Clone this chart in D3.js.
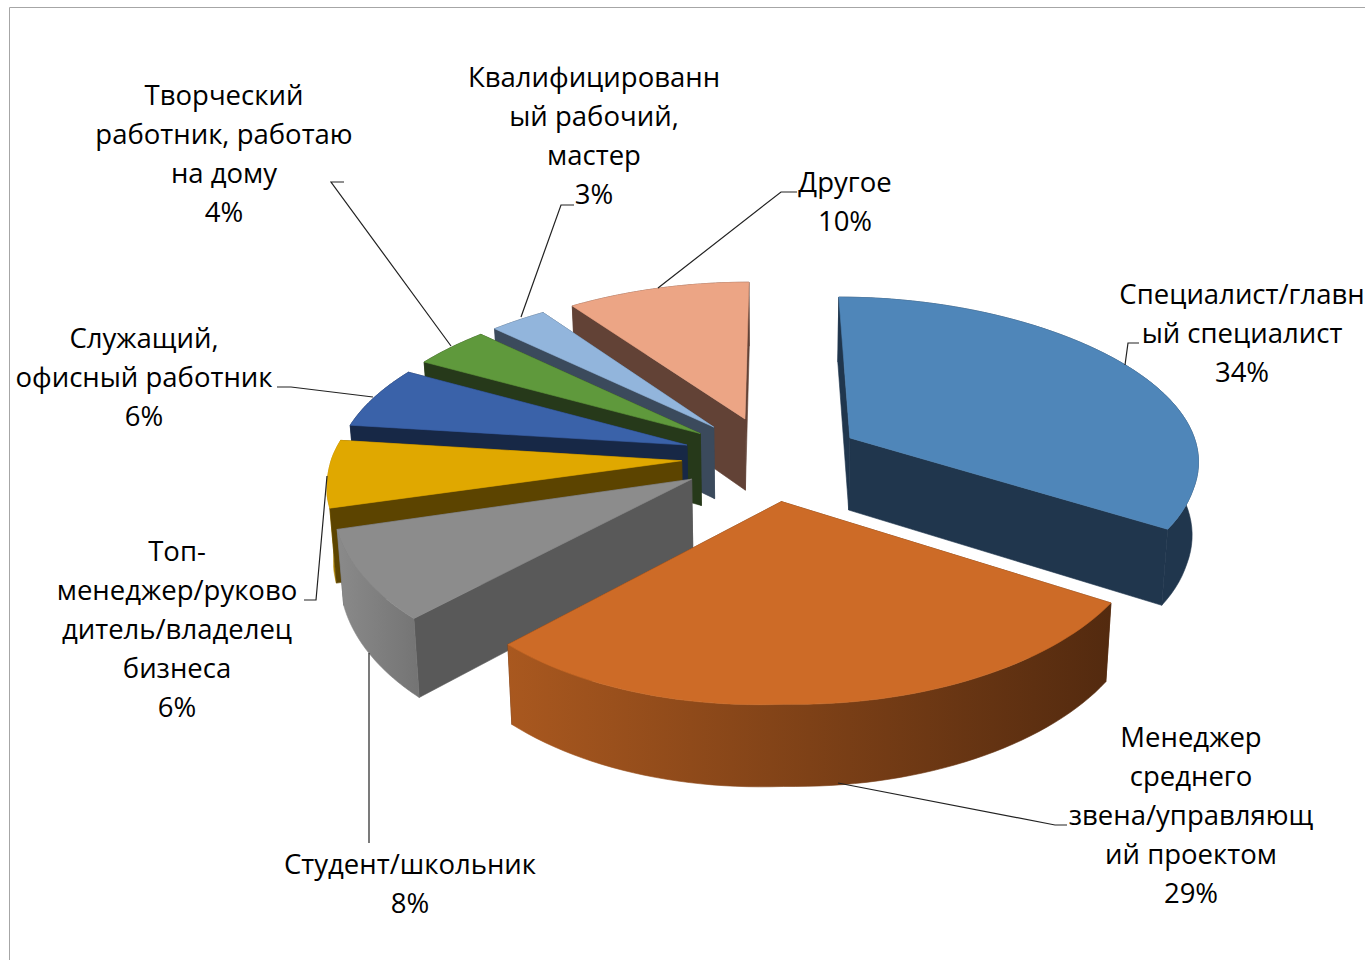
<!DOCTYPE html>
<html>
<head>
<meta charset="utf-8">
<script src="https://cdnjs.cloudflare.com/ajax/libs/d3/7.8.5/d3.min.js"></script>
<style>
    html, body { margin: 0; padding: 0; background: #fff; overflow: hidden; }
    text { font-family: "Open Sans", sans-serif; font-size: 27.5px; fill: #000; text-anchor: middle; }
</style>
</head>
<body>
<div id="chart"></div>
<script>
// values, clockwise from 12 o'clock
const categories = [
    ["Специалист/главн", "ый специалист"],
    ["Менеджер", "среднего", "звена/управляющ", "ий проектом"],
    ["Студент/школьник"],
    ["Топ-", "менеджер/руково", "дитель/владелец", "бизнеса"],
    ["Служащий,", "офисный работник"],
    ["Творческий", "работник, работаю", "на дому"],
    ["Квалифицированн", "ый рабочий,", "мастер"],
    ["Другое"]
];
const values = [34, 29, 8, 6, 6, 4, 3, 10];

const topColors = ["#4f86b9", "#cd6b27", "#8c8c8c", "#e0a800", "#3a62a9", "#5f993c", "#92b5dc", "#eca585"];
const faceColors = ["#20364d", "#5c2e10", "#595959", "#5c4400", "#172846", "#26391a", "#3b4a5c", "#624236"];
const wallStart = ["#20364d", "#a9581f", "#8a8a8a", "#b08300", "#172846", "#26391a", "#3b4a5c", "#624236"];
const wallEnd = ["#20364d", "#532a0f", "#747474", "#b08300", "#172846", "#26391a", "#3b4a5c", "#624236"];

// where each label sits: centre x, y of first line
const labelX = [1242, 1191, 410, 177, 144, 224, 594, 845];
const labelY = [294, 737, 864, 551, 338, 95, 77, 182];
const lineStep = 39;

// leader lines, label end first
const leaders = [
    [[1139, 343], [1128, 343], [1125, 365]],
    [[1067, 825], [1055, 825], [838, 783]],
    [[369, 843], [369, 653]],
    [[316, 600], [304, 600], [316, 600], [327, 476]],
    [[277, 387], [291, 387], [373, 397]],
    [[344, 182], [331, 182], [451, 346]],
    [[574, 205], [561, 205], [521, 317]],
    [[797, 192], [781, 192], [658, 288]]
];

// back slices first so the nearer ones paint over them
const drawOrder = [7, 6, 5, 4, 3, 2, 0, 1];

const width = 1365, height = 960;

// projection settings, fitted by eye
const cam = {
    cx: 772, cy: 458,
    radius: 350,     // px, at depth 0
    tilt: 164,       // px of screen y per unit of depth
    dist: 7.7,       // perspective distance for y
    explode: 0.258,  // in radius units
    thick: 73,       // wall height at depth 0
    converge: 0.015,
    shear: 12,       // front of the pie leans right a little
    sag: 16          // and its front left drops a little
};

function project(X, Z, h) {
    // h is 0 on the top face, 1 on the bottom
    let sy = cam.dist / (cam.dist + Z);
    let sx = 1 - 0.125 * Z - 0.012 * Z * Z;
    let lean = cam.shear * Math.max(0, -Z - 0.2);
    let drop = cam.sag * Math.max(0, -Z) * Math.max(0, -X);
    return [
        cam.cx + (cam.radius * X * sx + lean) * (1 - cam.converge * h),
        cam.cy - cam.tilt * Z * sy + drop + cam.thick * (1 - 0.1 * Z) * h
    ];
}

const pie = d3.pie().sort(null)(values);
const line = d3.line();

const svg = d3.select("#chart").append("svg")
    .attr("width", width)
    .attr("height", height);

const defs = svg.append("defs");
values.forEach((d, i) => {
    let grad = defs.append("linearGradient").attr("id", "wall" + i);
    grad.append("stop").attr("offset", "0%").attr("stop-color", wallStart[i]);
    grad.append("stop").attr("offset", "100%").attr("stop-color", wallEnd[i]);
});

// chart frame, only the top and left edges are in the picture
svg.append("path")
    .attr("d", line([[9.5, height], [9.5, 7.5], [width, 7.5]]))
    .attr("fill", "none")
    .attr("stroke", "#a6a6a6")
    .attr("stroke-width", 1);

function drawSlice(i) {
    let a0 = pie[i].startAngle, a1 = pie[i].endAngle;
    let mid = (a0 + a1) / 2;
    let ox = cam.explode * Math.sin(mid), oz = cam.explode * Math.cos(mid);

    let rim = (a, h) => project(ox + Math.sin(a), oz + Math.cos(a), h);
    let apex = h => project(ox, oz, h);

    let steps = d3.range(0, 61).map(k => a0 + (a1 - a0) * k / 60);
    // farthest side first, the top goes on last
    let faces = [
        {depth: oz + Math.cos(a0) / 2, pts: [apex(0), rim(a0, 0), rim(a0, 1), apex(1)], fill: faceColors[i]},
        {depth: oz + Math.cos(a1) / 2, pts: [apex(0), rim(a1, 0), rim(a1, 1), apex(1)], fill: faceColors[i]},
        {depth: oz + Math.cos(mid), pts: steps.map(a => rim(a, 0)).concat(steps.slice().reverse().map(a => rim(a, 1))), fill: `url(#wall${i})`}
    ];
    faces.sort((p, q) => q.depth - p.depth);

    let g = svg.append("g").attr("class", "slice");
    faces.forEach(f => {
        g.append("path")
            .attr("d", line(f.pts) + "Z")
            .attr("fill", f.fill)
            .attr("stroke", f.fill)
            .attr("stroke-width", 0.6)
            .attr("stroke-linejoin", "round");
    });

    let topPts = [apex(0)].concat(steps.map(a => rim(a, 0)));
    g.append("path")
        .attr("d", line(topPts) + "Z")
        .attr("fill", topColors[i])
        .attr("stroke", topColors[i])
        .attr("stroke-width", 0.6)
        .attr("stroke-linejoin", "round");
}

drawOrder.forEach(drawSlice);

// leader lines
svg.append("g").selectAll("path")
    .data(leaders)
    .enter().append("path")
    .attr("d", d => line(d))
    .attr("fill", "none")
    .attr("stroke", "#222")
    .attr("stroke-width", 1.2);

// data labels: category lines and then the percentage
const total = d3.sum(values);
const fmt = d3.format(".0%");

const labels = svg.append("g").selectAll("text")
    .data(categories)
    .enter().append("text")
    .attr("y", (d, i) => labelY[i] + 10);

labels.selectAll("tspan")
    .data((d, i) => d.concat(fmt(values[i] / total)).map(t => ({t: t, i: i})))
    .enter().append("tspan")
    .attr("x", d => labelX[d.i])
    .attr("dy", (d, k) => k == 0 ? 0 : lineStep)
    .text(d => d.t);
</script>
</body>
</html>
